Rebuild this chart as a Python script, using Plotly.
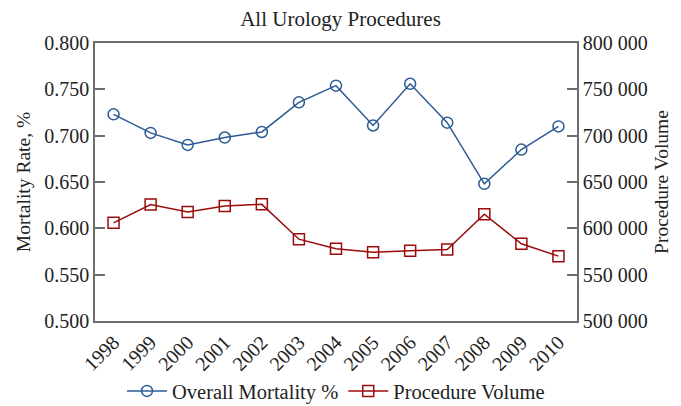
import plotly.graph_objects as go

years = [1998, 1999, 2000, 2001, 2002, 2003, 2004, 2005, 2006, 2007, 2008, 2009, 2010]
mortality = [0.723, 0.703, 0.690, 0.698, 0.704, 0.736, 0.754, 0.711, 0.756, 0.714, 0.648, 0.685, 0.710]
volume = [605900, 625600, 617700, 624200, 625900, 588300, 578000, 574300, 575800, 577200, 615200, 583300, 570000]

FONT = "Liberation Serif"
BLUE = "#2c5b94"
RED = "#9a0b0b"
AX = "#6e6e6e"

fig = go.Figure()
fig.add_trace(go.Scatter(
    x=years, y=mortality, name="Overall Mortality %", mode="lines+markers",
    line=dict(color=BLUE, width=1.5),
    marker=dict(symbol="circle-open", size=11, color=BLUE, line=dict(width=1.5)),
    yaxis="y"))
fig.add_trace(go.Scatter(
    x=years, y=volume, name="Procedure Volume", mode="lines+markers",
    line=dict(color=RED, width=1.5),
    marker=dict(symbol="square-open", size=11, color=RED, line=dict(width=1.5)),
    yaxis="y2"))

fig.update_layout(
    width=681, height=406,
    margin=dict(l=95, r=104, t=43, b=85, autoexpand=False),
    paper_bgcolor="white", plot_bgcolor="white",
    separators=". ",
    font=dict(family=FONT, size=17, color="#222222"),
    title=dict(text="All Urology Procedures", x=0.5, xanchor="center",
               y=0.955, yanchor="middle", font=dict(size=21, family=FONT)),
    showlegend=True,
    legend=dict(orientation="h", x=0.5, xanchor="center", y=-0.252, yanchor="middle",
                font=dict(size=20.5, family=FONT), itemwidth=40, tracegroupgap=0),
    xaxis=dict(range=[1997.5, 2010.5], tickmode="array", tickvals=years,
               ticktext=[str(y) for y in years], tickangle=-45, automargin=False,
               showgrid=False, zeroline=False, showline=True, linecolor=AX,
               linewidth=1.5, mirror=True, ticks="", tickfont=dict(size=20)),
    yaxis=dict(range=[0.5, 0.8], tickvals=[0.5, 0.55, 0.6, 0.65, 0.7, 0.75, 0.8],
               tickformat=".3f", showgrid=False, zeroline=False, showline=True,
               automargin=False,
               linecolor=AX, linewidth=1.5, ticks="inside", ticklen=10, tickcolor=AX,
               tickwidth=1.5, title=dict(text="Mortality Rate, %", standoff=8,
                                         font=dict(size=19.5)),
               tickfont=dict(size=20)),
    yaxis2=dict(range=[500000, 800000], overlaying="y", side="right",
                tickvals=[500000, 550000, 600000, 650000, 700000, 750000, 800000],
                tickformat=",d", showgrid=False, zeroline=False, showline=True,
                automargin=False,
                linecolor=AX, linewidth=1.5, ticks="inside", ticklen=10, tickcolor=AX,
                tickwidth=1.5, title=dict(text="Procedure Volume", standoff=8,
                                          font=dict(size=19.5)),
                tickfont=dict(size=20)),
)

fig.write_html("out.html", config={"displayModeBar": False},
               post_script="document.body.style.margin='0';")
